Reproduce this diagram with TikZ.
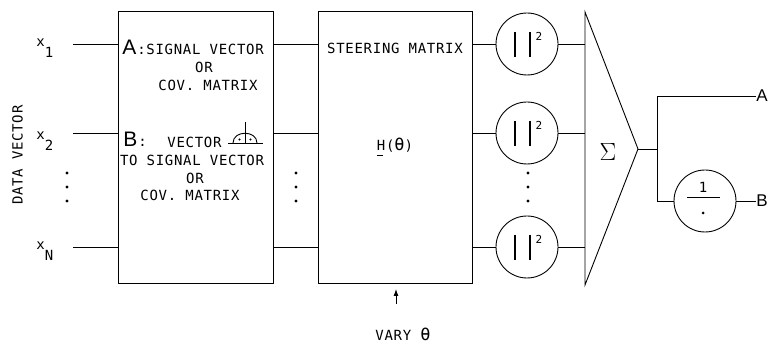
\documentclass[tikz,border=0pt]{standalone}
\usepackage{fontspec}
\usepackage{amsmath}
\usetikzlibrary{arrows.meta}
\newfontfamily\leroy[LetterSpace=5]{DejaVu Sans Mono}
\newfontfamily\plainmono{DejaVu Sans Mono}
\newfontfamily\bigsans{Liberation Sans}
\newcommand{\bigtheta}{{\fontsize{17}{17}\selectfont θ}}

\begin{document}
\begin{tikzpicture}[x=1pt, y=-1pt, line width=0.9pt,
	lettering/.style={font=\leroy\fontsize{14}{17}\selectfont, inner sep=0pt},
	bigletter/.style={font=\bigsans\fontsize{#1}{#1}\selectfont, inner sep=0pt},
	blockbox/.style={draw, minimum width=#1, minimum height=272pt, inner sep=0pt},
	squarer/.style={draw, circle, minimum size=62pt, inner sep=0pt}]
	\useasboundingbox (0,0) rectangle (772,344);
	\node[blockbox=155pt] (prep) at (195.5,147) {};
	\node[blockbox=154pt] (steer) at (395,147) {};
	\coordinate (sumtop) at (585,12);
	\coordinate (sumbot) at (585,285);
	\coordinate (sumout) at (638,149);
	\draw (sumtop) -- (sumout) -- (sumbot) -- cycle;
	\node (sigma) at (608,152) {\fontsize{36}{36}\selectfont$\Sigma$};
	\foreach \i/\y/\b/\s in {1/44/47/1, 2/133/140/2, 3/247/250/N} {
		\node[lettering, anchor=base west] (in\i) at (36,\b) {x\raisebox{-11pt}{\s}};
		\coordinate (s\i) at (73,\y);
		\node[squarer] (m\i) at (527,\y) {};
		\draw[line width=1.3pt] ([shift={(-12,-12)}]m\i.center) -- ++(0,25) ([shift={(3,-12)}]m\i.center) -- ++(0,25);
		\node[font=\plainmono\fontsize{11}{11}\selectfont, inner sep=0pt] (sq\i) at ([shift={(12,-8)}]m\i.center) {2};
		\draw (s\i) -- (s\i -| prep.west);
		\draw (prep.east |- s\i) -- (steer.west |- s\i);
		\draw (steer.east |- s\i) -- (m\i);
		\draw (m\i) -- (m\i -| sumtop);
	}
	\foreach \x in {67,296,528} {\foreach \y in {173,187,201} {\fill (\x,\y) circle (1.6pt);}}
	\node[lettering, rotate=90] (datavec) at (17.5,155) {DATA VECTOR};
	\node[bigletter=21, anchor=base west] (labA) at (122,55) {A};
	\node[lettering, anchor=base west] (sigA) at (labA.base east) {:SIGNAL VECTOR};
	\node[lettering] (orA) at (204,67) {OR};
	\node[lettering] (covA) at (208,85) {COV. MATRIX};
	\node[bigletter=21, anchor=base west] (labB) at (123,147) {B};
	\node[lettering, anchor=base west] (colB) at (labB.base east) {:};
	\node[lettering] (vecB) at (194.5,142) {VECTOR};
	\draw (228,143) -- (263,143);
	\draw (233,143) .. controls (233,130) and (257,130) .. (257,143);
	\draw (245,122) -- (245,143);
	\fill (239.5,139.5) circle (1.2pt);
	\fill (250.5,139.5) circle (1.2pt);
	\node[lettering] (sigB) at (192,160) {TO SIGNAL VECTOR};
	\node[lettering] (orB) at (195,178) {OR};
	\node[lettering] (covB) at (190,195) {COV. MATRIX};
	\node[lettering] (steertxt) at (395,48) {STEERING MATRIX};
	\node[lettering] (hmat) at (395,147) {\makebox[0pt][l]{\raisebox{-6pt}{\rule{6pt}{0.8pt}}}H(\bigtheta)};
	\coordinate (varytail) at (396,304);
	\coordinate (varyhead) at (396,289);
	\draw[-{Latex[length=7pt,width=5pt]}] (varytail) -- (varyhead);
	\node[lettering] (vary) at (403,334) {VARY \bigtheta};
	\coordinate (split) at (657,149);
	\node[squarer] (recip) at (705,201) {};
	\node[lettering] (one) at (703,187) {1};
	\draw (687,197) -- (720,197);
	\fill (703,213) circle (1.5pt);
	\node[bigletter=17, anchor=west] (outA) at (756,96) {A};
	\node[bigletter=17, anchor=west] (outB) at (756,201) {B};
	\draw (sumout) -- (split);
	\draw (split |- outA) -- (split |- recip);
	\draw (split |- outA) -- (outA.west);
	\draw (split |- recip) -- (recip);
	\draw (recip) -- (outB.west);
\end{tikzpicture}
\end{document}
